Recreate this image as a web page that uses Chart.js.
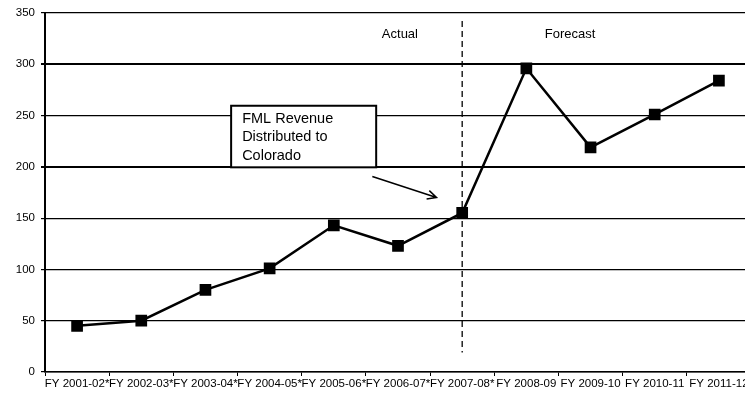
<!DOCTYPE html>
<html>
<head>
<meta charset="utf-8">
<script src="https://cdn.jsdelivr.net/npm/chart.js@4/dist/chart.umd.min.js"></script>
<style>
	html, body { margin: 0; padding: 0; background: #fff; overflow: hidden; }
	#wrap { width: 745px; height: 402px; }
	canvas { display: block; }
</style>
</head>
<body>
<div id="wrap"><canvas id="chart" width="745" height="402"></canvas></div>
<script>
const fiscalYears = [
	'FY 2001-02*', 'FY 2002-03*', 'FY 2003-04*', 'FY 2004-05*', 'FY 2005-06*',
	'FY 2006-07*', 'FY 2007-08*', 'FY 2008-09', 'FY 2009-10', 'FY 2010-11', 'FY 2011-12',
];
const revenue = [45, 50, 80, 101, 143, 123, 155, 296, 219, 251, 284];
const yTicks = [0, 50, 100, 150, 200, 250, 300, 350];
const lastActual = 6;

const axisFont = { family: '"Liberation Sans Narrow", "Liberation Sans", Arial, sans-serif', size: 11.5 };
const noteFont = '13px "Liberation Sans", Arial, sans-serif';
const boxFont = '14.5px "Liberation Sans", Arial, sans-serif';

// the original plot runs a little past the right edge, cutting the last label
const overhang = 6;
const widenArea = {
	id: 'widenArea',
	afterLayout(chart) {
		const x = chart.scales.x;
		const right = chart.width + overhang;
		x.right = right;
		x.width = right - x.left;
		chart.chartArea.right = right;
		chart.chartArea.width = right - chart.chartArea.left;
		x.configure();
	},
};

// dashed split line, labels and callout drawn in data units
const notes = {
	id: 'notes',
	afterDatasetsDraw(chart) {
		const { ctx, scales: { x, y } } = chart;
		ctx.save();

		const sx = x.getPixelForValue(lastActual);
		ctx.strokeStyle = '#000';
		ctx.lineWidth = 1.3;
		ctx.setLineDash([6, 4]);
		ctx.beginPath();
		ctx.moveTo(sx, y.getPixelForValue(342));
		ctx.lineTo(sx, y.getPixelForValue(19));
		ctx.stroke();
		ctx.setLineDash([]);

		ctx.fillStyle = '#000';
		ctx.font = noteFont;
		ctx.textAlign = 'center';
		ctx.textBaseline = 'middle';
		ctx.fillText('Actual', x.getPixelForValue(5.03), y.getPixelForValue(329));
		ctx.fillText('Forecast', x.getPixelForValue(7.68), y.getPixelForValue(329));

		// callout box
		const bx0 = x.getPixelForValue(2.4), bx1 = x.getPixelForValue(4.66);
		const by0 = y.getPixelForValue(259.5), by1 = y.getPixelForValue(199.5);
		ctx.fillStyle = '#fff';
		ctx.fillRect(bx0, by0, bx1 - bx0, by1 - by0);
		ctx.lineWidth = 2;
		ctx.strokeRect(bx0, by0, bx1 - bx0, by1 - by0);
		ctx.fillStyle = '#000';
		ctx.textAlign = 'left';
		ctx.font = boxFont;
		const tx = bx0 + 11;
		['FML Revenue', 'Distributed to', 'Colorado'].forEach((line, i) => {
			ctx.fillText(line, tx, by0 + 13 + i * 18.5);
		});

		// arrow
		const ax0 = x.getPixelForValue(4.6), ay0 = y.getPixelForValue(190.5);
		const ax1 = x.getPixelForValue(5.6), ay1 = y.getPixelForValue(170);
		const ang = Math.atan2(ay1 - ay0, ax1 - ax0);
		ctx.lineWidth = 1.5;
		ctx.beginPath();
		ctx.moveTo(ax0, ay0);
		ctx.lineTo(ax1, ay1);
		ctx.moveTo(ax1 - 10 * Math.cos(ang - 0.45), ay1 - 10 * Math.sin(ang - 0.45));
		ctx.lineTo(ax1, ay1);
		ctx.lineTo(ax1 - 10 * Math.cos(ang + 0.45), ay1 - 10 * Math.sin(ang + 0.45));
		ctx.stroke();

		ctx.restore();
	},
};

new Chart(document.getElementById('chart'), {
	type: 'line',
	data: {
		labels: fiscalYears,
		datasets: [
			{
				data: revenue,
				borderColor: '#000',
				backgroundColor: '#000',
				borderWidth: 2.5,
				pointStyle: 'rect',
				pointRadius: 6.5,
				pointBackgroundColor: '#000',
				pointBorderColor: '#000',
				tension: 0,
			},
		],
	},
	options: {
		responsive: false,
		animation: false,
		layout: { padding: { top: 12, right: 0, left: 0, bottom: 0 } },
		plugins: {
			legend: { display: false },
			tooltip: { enabled: false },
		},
		scales: {
			x: {
				offset: true,
				afterFit: (s) => {
					s.height = 30;
					s.paddingLeft = 0;
					s.paddingRight = 0;
				},
				border: { color: '#000', width: 1.5 },
				grid: { display: true, drawOnChartArea: false, offset: true, color: '#000', tickLength: 4 },
				ticks: {
					color: '#000',
					font: axisFont,
					autoSkip: false,
					maxRotation: 0,
					minRotation: 0,
					padding: 1,
				},
			},
			y: {
				min: 0,
				max: 350,
				afterFit: (s) => { s.width = 45; },
				afterBuildTicks: (s) => { s.ticks = yTicks.map((v) => ({ value: v })); },
				border: { color: '#000', width: 2 },
				grid: {
					color: '#000',
					lineWidth: (c) => (c.tick && (c.tick.value === 200 || c.tick.value === 300) ? 2 : 1.2),
					tickLength: 4,
				},
				ticks: { color: '#000', font: axisFont, padding: 6 },
			},
		},
	},
	plugins: [widenArea, notes],
});
</script>
</body>
</html>
